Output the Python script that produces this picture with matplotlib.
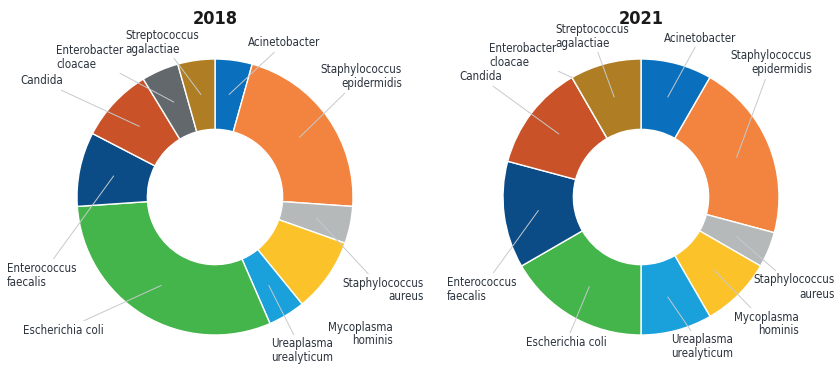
import numpy as np
import matplotlib
matplotlib.use("Agg")
import matplotlib.pyplot as plt
from matplotlib import font_manager as fm

# narrow font if there is one, Roboto otherwise
names = {f.name for f in fm.fontManager.ttflist}
condensed = [f for f in fm.fontManager.ttflist if 'ondensed' in str(f.stretch) or 'ondensed' in f.fname or 'Narrow' in f.name]
stretch = 'normal'
if 'Liberation Sans Narrow' in names:
    fam = 'Liberation Sans Narrow'
elif condensed:
    fam = condensed[0].name
    stretch = 'condensed'
else:
    fam = 'Roboto'
plt.rcParams['font.family'] = [fam, 'DejaVu Sans']
plt.rcParams['font.stretch'] = stretch

# organisms, clockwise from 12 o'clock
organisms = ["Acinetobacter", "Staphylococcus\nepidermidis", "Staphylococcus\naureus",
             "Mycoplasma\nhominis", "Ureaplasma\nurealyticum", "Escherichia coli",
             "Enterococcus\nfaecalis", "Candida", "Enterobacter\ncloacae",
             "Streptococcus\nagalactiae"]
counts_2018 = [1, 5, 1, 2, 1, 7, 2, 2, 1, 1]
counts_2021 = [2, 5, 1, 2, 2, 4, 3, 3, 0, 2]
colors = ["#0A70BD", "#F3843F", "#B5B9BA", "#FCC22A", "#1AA1DB",
          "#44B54A", "#0B4C86", "#C95228", "#62686B", "#AF7E24"]

W, H = 840, 368
txt_col = "#2B333D"
line_col = "#C5CACD"

# label anchors in image pixels (x, y from top, alignment)
lab_2018 = [(248, 43, 'left'), (402, 77, 'right'), (424, 290, 'right'),
            (393, 334, 'right'), (271, 351, 'left'), (104, 330, 'right'),
            (7, 275, 'left'), (20, 81, 'left'), (56, 57, 'left'),
            (125, 42, 'left')]
lab_2021 = [(664, 38, 'left'), (812, 63, 'right'), (835, 287, 'right'),
            (799, 324, 'right'), (671, 347, 'left'), (526, 342, 'left'),
            (447, 289, 'left'), (459, 77, 'left'), (489, 55, 'left'),
            (555, 36, 'left')]

fig = plt.figure(figsize=(8.4, 3.68), dpi=100)


def donut(cx, cy, title, counts, labs, no_line=()):
    r = 138
    ax = fig.add_axes([(cx - r) / W, 1 - (cy + r) / H, 2 * r / W, 2 * r / H])
    ax.pie(counts, colors=colors, startangle=90, counterclock=False, radius=1,
           wedgeprops=dict(width=0.51, edgecolor='white', linewidth=1))
    ax.set_xlim(-1, 1)
    ax.set_ylim(-1, 1)
    ax.axis('off')
    fig.text(cx / W, 1 - 19 / H, title, ha='center', va='center',
             fontsize=13, fontweight='bold', color='#1a1a1a')
    total = sum(counts)
    cum = np.cumsum([0] + counts)
    for i, name in enumerate(organisms):
        mid = (cum[i] + cum[i + 1]) / 2 / total * 2 * np.pi
        rr = 0.75 if counts[i] > 0 else 1.0
        x, y = rr * np.sin(mid), rr * np.cos(mid)
        tx, ty, ha = labs[i]
        props = None if i in no_line else dict(arrowstyle='-', color=line_col, lw=0.7,
                                               shrinkA=0, shrinkB=0)
        ax.annotate(name, xy=(x, y), xytext=(tx / W, 1 - ty / H),
                    textcoords='figure fraction', ha=ha, va='center',
                    fontsize=8.3, color=txt_col, linespacing=1.1,
                    arrowprops=props, annotation_clip=False)


donut(215, 197, "2018", counts_2018, lab_2018, no_line=(3,))
donut(641, 197, "2021", counts_2021, lab_2021)

fig.savefig("out.png", dpi=100, facecolor='white')
